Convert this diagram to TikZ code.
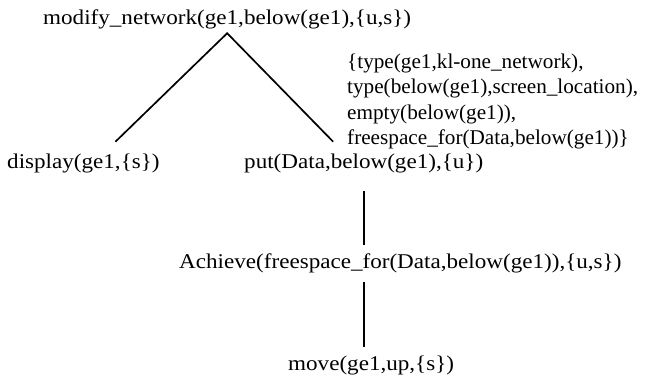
\documentclass[tikz,border=0pt]{standalone}
\usepackage{fontspec}
\setmainfont{Liberation Serif}[FakeStretch=1.1]
\newfontfamily\condfont{Liberation Serif}[FakeStretch=1.01]
\usepackage{tikz}

\begin{document}
\begin{tikzpicture}[x=1pt, y=-1pt,
        every node/.style={inner sep=0pt, anchor=base west, font=\fontsize{21}{25}\selectfont},
        condition/.style={font=\fontsize{21}{25}\condfont},
        branch/.style={-, black, line width=1.7pt}]
            \useasboundingbox (0,0) rectangle (652,381);
            \node (modify) at (43,24) {modify\_network(ge1,below(ge1),\{u,s\})};
            \node (display) at (7,168) {display(ge1,\{s\})};
            \node (put) at (244,168) {put(Data,below(ge1),\{u\})};
            \node (achieve) at (179,268) {Achieve(freespace\_for(Data,below(ge1)),\{u,s\})};
            \node (move) at (288,370) {move(ge1,up,\{s\})};
            \foreach \txt [count=\i] in {{\{type(ge1,kl-one\_network),},
                    {type(below(ge1),screen\_location),},
                    {empty(below(ge1)),},
                    {freespace\_for(Data,below(ge1))\}}} {
                \node[condition] (cond\i) at (347,42.5+25.5*\i) {\txt};
            }
            \draw[branch] ([xshift=32pt,yshift=11.5pt]display.north) -- ([yshift=-4.5pt]modify.south)
                -- ([xshift=-30.5pt,yshift=11.5pt]put.north);
            \draw[branch, shorten <=18.5pt, shorten >=8.5pt] (put.south) -- (put.south |- achieve.north);
            \draw[branch, shorten <=9.5pt, shorten >=8.5pt] (put.south |- achieve.south) -- (put.south |- move.north);
        \end{tikzpicture}
\end{document}
